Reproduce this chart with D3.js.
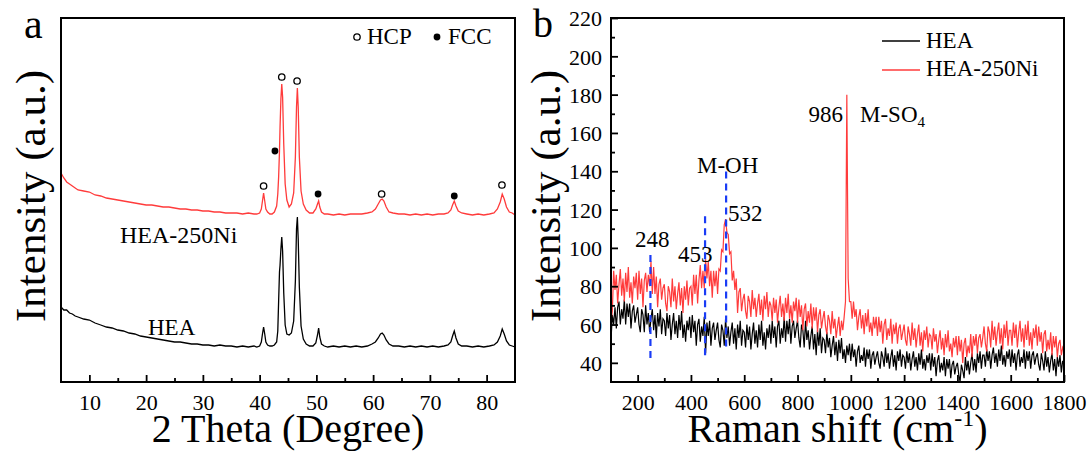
<html>
<head>
<script src="https://d3js.org/d3.v7.min.js"></script>
<style>
  body { margin: 0; background: #fff; }
  text { font-family: "Liberation Serif", "Times New Roman", serif; fill: #000; }
</style>
</head>
<body>
<svg width="1089" height="452"></svg>
<script>
// ---- panel a : XRD ----
var twoTheta = [5,5.5,6,6.5,7,7.5,8,9,10,11,12,13,14,15,16,17,18,19,20,21,22,23,24,25,26,27,28,29,30,31,32,33,34,35,36,37,38,39,39.5,40,
  40.3,40.5,40.7,40.9,41.1,41.4,41.8,42.2,42.6,43.0,43.2,43.35,43.5,43.6,43.75,43.9,44.05,44.25,44.5,44.8,45.2,45.6,46.0,46.3,46.5,46.65,46.8,47.0,47.3,47.7,
  48.2,48.8,49.4,49.9,50.2,50.4,50.6,50.9,51.4,52,53,54,55,56,57,58,59,59.8,60.4,60.9,61.3,61.6,61.9,62.3,62.8,63.5,64.5,65.5,66.5,67.5,68.5,69.5,70.5,71.5,72.5,
  73.2,73.7,74.0,74.3,74.6,75.0,75.6,76.5,77.5,78.5,79.5,80.5,81.3,81.9,82.4,82.75,83.1,83.5,84.0,84.5,85];
var xrdHEA = [82,79,79,76,75,73,72,70,69,66,64,62,61,59,58,56,55,53,52,51,50,49,48,47,47,46,45,45,44,44,43,44,43,43,42,43,42,43,42,43,
  47,55,62,55,47,44,43,43,44,47,58,88,117,124,140,152,138,96,64,55,54,56,68,108,160,172,150,102,63,50,
  45,43,43,46,54,61,52,45,43,42,43,42,43,42,43,42,43,45,47,51,55,56,54,49,45,43,43,42,43,42,43,42,43,42,43,
  44,47,53,58,51,45,43,43,42,43,42,43,44,47,53,60,55,48,44,43,42];
var xrdHEA250Ni = [216,211,207,205,203,201,199,198,197,194,193,191,190,189,188,187,186,185,184,184,183,182,182,181,180,180,179,179,178,178,177,177,176,176,176,175,176,175,175,176,
  180,188,196,188,180,177,175,175,177,183,195,212,238,262,290,305,292,245,205,189,182,185,196,232,282,301,282,232,198,185,
  179,176,176,180,185,188,182,177,175,175,174,175,174,175,175,175,176,177,180,185,189,190,188,182,177,176,175,175,174,175,174,175,174,175,175,
  176,179,184,188,183,178,176,175,174,175,174,175,176,180,187,195,190,182,177,176,174];
var hcpTheta = [40.7, 43.9, 46.6, 61.5, 82.7];
var hcpLevel = [203, 312, 308, 195, 204];
var fccTheta = [42.7, 50.3, 74.3];
var fccLevel = [238, 195, 193];
var xrdTicks = [10, 20, 30, 40, 50, 60, 70, 80];
var xrdMinor = [15, 25, 35, 45, 55, 65, 75];

// ---- panel b : Raman ----
var ramanShift = [
  100,105,110,115,120,125,130,135,140,145,150,155,160,165,170,175,180,185,190,195,
  200,205,210,215,220,225,230,235,240,245,250,255,260,265,270,275,280,285,290,295,
  300,305,310,315,320,325,330,335,340,345,350,355,360,365,370,375,380,385,390,395,
  400,405,410,415,420,425,430,435,440,445,450,455,460,465,470,475,480,485,490,495,
  500,505,510,515,520,525,530,535,540,545,550,555,560,565,570,575,580,585,590,595,
  600,605,610,615,620,625,630,635,640,645,650,655,660,665,670,675,680,685,690,695,
  700,705,710,715,720,725,730,735,740,745,750,755,760,765,770,775,780,785,790,795,
  800,805,810,815,820,825,830,835,840,845,850,855,860,865,870,875,880,885,890,895,
  900,905,910,915,920,925,930,935,940,945,950,955,960,965,970,975,980,985,990,995,
  1000,1005,1010,1015,1020,1025,1030,1035,1040,1045,1050,1055,1060,1065,1070,1075,1080,1085,1090,1095,
  1100,1105,1110,1115,1120,1125,1130,1135,1140,1145,1150,1155,1160,1165,1170,1175,1180,1185,1190,1195,
  1200,1205,1210,1215,1220,1225,1230,1235,1240,1245,1250,1255,1260,1265,1270,1275,1280,1285,1290,1295,
  1300,1305,1310,1315,1320,1325,1330,1335,1340,1345,1350,1355,1360,1365,1370,1375,1380,1385,1390,1395,
  1400,1405,1410,1415,1420,1425,1430,1435,1440,1445,1450,1455,1460,1465,1470,1475,1480,1485,1490,1495,
  1500,1505,1510,1515,1520,1525,1530,1535,1540,1545,1550,1555,1560,1565,1570,1575,1580,1585,1590,1595,
  1600,1605,1610,1615,1620,1625,1630,1635,1640,1645,1650,1655,1660,1665,1670,1675,1680,1685,1690,1695,
  1700,1705,1710,1715,1720,1725,1730,1735,1740,1745,1750,1755,1760,1765,1770,1775,1780,1785,1790,1795,
  1800];
var ramanHEA = [
  52,65,60,69,58,69,72,60,68,63,73,60,71,64,71,58,67,70,61,65,
  69,60,56,68,65,56,70,60,66,56,63,68,57,65,53,66,59,68,55,63,
  62,54,66,58,65,52,60,66,55,62,53,65,57,67,53,60,51,62,57,64,
  53,65,56,62,49,60,63,51,59,54,64,45,61,54,62,49,58,61,52,57,
  61,52,48,60,57,49,63,53,59,49,56,61,50,58,47,60,53,62,49,57,
  56,48,60,52,59,47,55,61,50,57,48,60,52,62,49,56,47,58,53,60,
  50,62,53,59,48,59,62,50,58,53,64,51,62,55,63,50,59,62,53,58,
  62,53,48,60,57,48,62,52,57,47,54,59,47,55,44,57,49,58,45,53,
  52,45,56,48,53,43,49,54,44,51,41,52,45,53,42,47,40,49,44,50,
  41,50,43,47,38,46,49,40,44,41,48,38,47,42,47,37,44,46,39,43,
  46,40,37,46,43,38,48,40,45,37,43,47,38,44,36,46,41,47,38,44,
  43,37,46,40,45,36,42,46,38,43,36,45,39,47,37,42,36,44,40,45,
  36,45,38,43,33,41,44,35,40,36,43,33,42,37,42,32,39,41,34,38,
  40,34,30,39,36,32,43,36,41,34,40,45,36,42,35,45,40,46,37,44,
  44,38,47,41,46,37,44,48,40,45,38,47,41,49,39,44,38,46,42,47,
  38,47,40,45,36,44,47,38,43,40,47,37,46,41,46,37,44,46,39,43,
  45,39,36,45,41,36,46,38,43,35,41,45,36,42,33,43,38,44,35,41,
  39];
var ramanHEA250Ni = [
  62,67,88,78,86,71,81,89,75,84,72,87,77,90,74,82,71,85,79,87,
  73,88,76,84,69,83,87,77,86,80,93,76,90,76,85,69,81,84,73,79,
  81,71,67,80,77,69,84,72,80,68,76,82,70,79,66,80,73,83,70,79,
  80,70,86,76,86,71,83,91,79,88,79,94,84,93,80,88,74,88,80,88,
  76,89,88,99,98,112,115,108,107,97,98,83,88,78,84,66,77,79,67,73,
  76,67,63,75,72,64,78,68,74,64,71,76,65,73,62,75,68,77,64,72,
  70,62,74,66,73,61,69,75,64,71,62,74,66,76,63,70,61,72,67,74,
  61,73,64,70,57,68,71,59,67,61,71,58,69,62,69,56,65,68,58,63,
  67,59,55,65,62,55,67,58,63,53,59,64,54,62,57,64,72,180,84,72,
  72,63,72,64,68,57,64,68,58,65,55,66,59,68,56,61,54,64,58,64,
  54,64,56,62,50,60,63,52,58,54,63,50,60,55,61,50,58,60,52,56,
  60,52,49,59,55,49,61,52,58,48,55,60,49,56,46,57,52,59,48,55,
  54,47,58,51,55,45,52,57,47,53,44,55,48,57,46,50,43,53,48,54,
  44,54,46,52,40,50,53,43,49,45,55,43,54,49,55,45,53,55,48,53,
  59,50,46,59,56,48,62,52,59,49,56,61,50,58,47,60,53,62,49,57,
  57,49,61,53,60,48,56,62,51,58,48,60,52,62,49,56,47,58,53,60,
  49,59,51,56,45,55,57,46,52,47,56,44,54,48,54,43,50,52,44,48,
  46];
var bandShift = [248, 453, 532];
var bandLow = [42.5, 44, 48.5];
var bandHigh = [98, 118, 140.5];
var ramanXTicks = [200, 400, 600, 800, 1000, 1200, 1400, 1600, 1800];
var ramanXMinor = [300, 500, 700, 900, 1100, 1300, 1500, 1700];
var ramanYTicks = [40, 60, 80, 100, 120, 140, 160, 180, 200, 220];
var ramanYMinor = [50, 70, 90, 110, 130, 150, 170, 190, 210];

var RED = "#ff3b3b";
var SERIF = "Liberation Serif";
var svg = d3.select("svg");

var xA = d3.scaleLinear().domain([5, 85]).range([61, 515]);
var yA = d3.scaleLinear().domain([7, 371]).range([382, 18]);
var xB = d3.scaleLinear().domain([100, 1800]).range([611, 1064]);
var yB = d3.scaleLinear().domain([30, 220]).range([382, 18]);

function styleAxis(g, size) {
  g.select(".domain").remove();
  g.attr("font-family", SERIF).attr("font-size", size);
  g.selectAll("line").attr("stroke-width", 1.8);
}
function minorAxis(g) {
  g.select(".domain").remove();
  g.selectAll("text").remove();
  g.selectAll("line").attr("stroke-width", 1.8);
}
function label(x, y, size, str) {
  return svg.append("text").attr("x", x).attr("y", y).attr("font-family", SERIF).attr("font-size", size).text(str);
}

// ---------- panel a ----------
var lineA = d3.line().x(function(d){ return xA(d[0]); }).y(function(d){ return yA(d[1]); });
svg.append("path").datum(twoTheta.map(function(t,i){ return [t, xrdHEA[i]]; }))
  .attr("d", lineA).attr("fill", "none").attr("stroke", "#000").attr("stroke-width", 1.3);
svg.append("path").datum(twoTheta.map(function(t,i){ return [t, xrdHEA250Ni[i]]; }))
  .attr("d", lineA).attr("fill", "none").attr("stroke", RED).attr("stroke-width", 1.3);

svg.selectAll(".hcp").data(hcpTheta).enter().append("circle")
  .attr("cx", function(d){ return xA(d); }).attr("cy", function(d,i){ return yA(hcpLevel[i]); })
  .attr("r", 3.2).attr("fill", "#fff").attr("stroke", "#000").attr("stroke-width", 1.3);
svg.selectAll(".fcc").data(fccTheta).enter().append("circle")
  .attr("cx", function(d){ return xA(d); }).attr("cy", function(d,i){ return yA(fccLevel[i]); })
  .attr("r", 3.4).attr("fill", "#000");

svg.append("g").attr("transform", "translate(0,382)")
  .call(d3.axisBottom(xA).tickValues(xrdTicks).tickSize(-7).tickPadding(12).tickFormat(d3.format("d")))
  .call(function(g){ styleAxis(g, 22); });
svg.append("g").attr("transform", "translate(0,382)")
  .call(d3.axisBottom(xA).tickValues(xrdMinor).tickSize(-4))
  .call(minorAxis);

svg.append("rect").attr("x", 61).attr("y", 18).attr("width", 454).attr("height", 364)
  .attr("fill", "none").attr("stroke", "#000").attr("stroke-width", 2);

label(24, 38, 42, "a");
label(288, 442, 40, "2 Theta (Degree)").attr("text-anchor", "middle");
svg.append("text").attr("transform", "translate(45,196) rotate(-90)").attr("text-anchor", "middle")
  .attr("font-family", SERIF).attr("font-size", 43).text("Intensity (a.u.)");
label(120, 243, 24, "HEA-250Ni");
label(148, 335, 23, "HEA");

svg.append("circle").attr("cx", 357).attr("cy", 37).attr("r", 3.2).attr("fill", "#fff").attr("stroke", "#000").attr("stroke-width", 1.3);
label(367, 44, 23, "HCP");
svg.append("circle").attr("cx", 437).attr("cy", 37).attr("r", 3.4).attr("fill", "#000");
label(448, 44, 23, "FCC");

// ---------- panel b ----------
var lineB = d3.line().x(function(d){ return xB(d[0]); }).y(function(d){ return yB(d[1]); });
svg.append("path").datum(ramanShift.map(function(s,i){ return [s, ramanHEA[i]]; }))
  .attr("d", lineB).attr("fill", "none").attr("stroke", "#000").attr("stroke-width", 1.2);
svg.append("path").datum(ramanShift.map(function(s,i){ return [s, ramanHEA250Ni[i]]; }))
  .attr("d", lineB).attr("fill", "none").attr("stroke", RED).attr("stroke-width", 1.2);

svg.append("g").attr("transform", "translate(0,382)")
  .call(d3.axisBottom(xB).tickValues(ramanXTicks).tickSize(-7).tickPadding(12).tickFormat(d3.format("d")))
  .call(function(g){ styleAxis(g, 22); });
svg.append("g").attr("transform", "translate(0,382)")
  .call(d3.axisBottom(xB).tickValues(ramanXMinor).tickSize(-4))
  .call(minorAxis);
svg.append("g").attr("transform", "translate(611,0)")
  .call(d3.axisLeft(yB).tickValues(ramanYTicks).tickSize(-7).tickPadding(9).tickFormat(d3.format("d")))
  .call(function(g){ styleAxis(g, 22); g.selectAll("text").attr("dy", "0.35em"); });
svg.append("g").attr("transform", "translate(611,0)")
  .call(d3.axisLeft(yB).tickValues(ramanYMinor).tickSize(-4))
  .call(minorAxis);

svg.append("rect").attr("x", 611).attr("y", 18).attr("width", 453).attr("height", 364)
  .attr("fill", "none").attr("stroke", "#000").attr("stroke-width", 2);

label(533, 37, 40, "b");
var rt = label(837.5, 442, 40, "").attr("text-anchor", "middle");
rt.append("tspan").text("Raman shift (cm");
rt.append("tspan").attr("font-size", 24).attr("dy", -16).text("-1");
rt.append("tspan").attr("dy", 16).text(")");
svg.append("text").attr("transform", "translate(560,196) rotate(-90)").attr("text-anchor", "middle")
  .attr("font-family", SERIF).attr("font-size", 43).text("Intensity (a.u.)");

svg.append("line").attr("x1", 882).attr("x2", 920).attr("y1", 41).attr("y2", 41).attr("stroke", "#000").attr("stroke-width", 1.5);
label(926, 47.5, 23, "HEA");
svg.append("line").attr("x1", 882).attr("x2", 920).attr("y1", 70).attr("y2", 70).attr("stroke", RED).attr("stroke-width", 1.5);
label(926, 76, 23, "HEA-250Ni");

label(635, 246.5, 23, "248");
label(678, 261.5, 23, "453");
label(728, 221, 23, "532");
label(697, 173, 23, "M-OH");
label(843, 122, 23, "986").attr("text-anchor", "end");
var so = label(860, 122, 23, "");
so.append("tspan").text("M-SO");
so.append("tspan").attr("font-size", 15).attr("dy", 5).text("4");

// dashed guide lines drawn last: they cross the "453" label in the figure
svg.selectAll(".band").data(bandShift).enter().append("line").attr("class", "band")
  .attr("x1", function(d){ return xB(d); }).attr("x2", function(d){ return xB(d); })
  .attr("y1", function(d,i){ return yB(bandLow[i]); }).attr("y2", function(d,i){ return yB(bandHigh[i]); })
  .attr("stroke", "#1a3cf5").attr("stroke-width", 2.2).attr("stroke-dasharray", "7,5");
</script>
</body>
</html>
